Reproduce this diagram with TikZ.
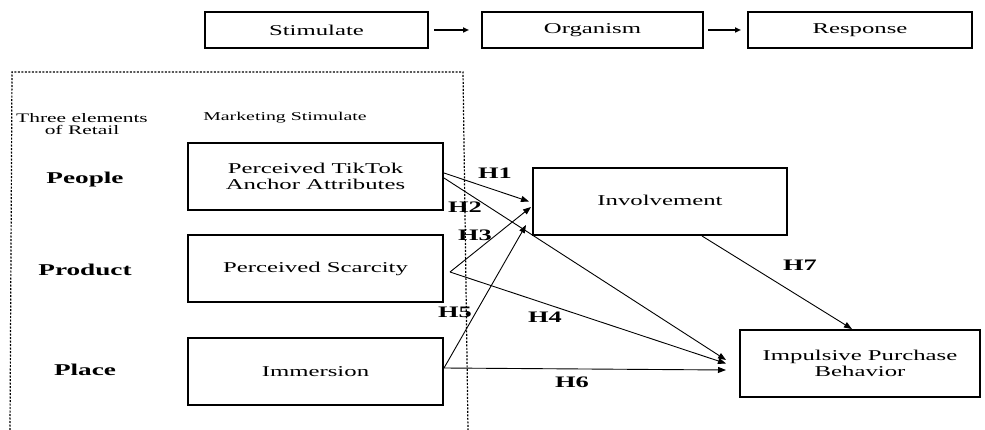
\documentclass[tikz,border=0pt]{standalone}
\usepackage{fontspec}
\setmainfont[FakeStretch=1.65]{Liberation Serif}
\usetikzlibrary{arrows.meta}
\begin{document}
\begin{tikzpicture}[x=1pt,y=-1pt,
  topbox/.style={draw, line width=2pt, inner sep=0pt, font=\fontsize{15}{17}\selectfont, minimum height=36pt},
  varbox/.style={draw, line width=2pt, inner sep=0pt, font=\fontsize{15}{15.5}\selectfont, align=center, minimum height=67pt},
  plain/.style={inner sep=0pt, align=center},
  elem/.style={inner sep=0pt, font=\bfseries\fontsize{16.5}{18}\selectfont},
  hlab/.style={inner sep=0pt, font=\bfseries\fontsize{16}{18}\selectfont},
  conn/.style={line width=0.9pt, -{Triangle[length=8pt,width=6pt]}},
  topconn/.style={line width=1.5pt, -{Triangle[length=6pt,width=5pt]}},
  frame/.style={line width=1.2pt, dash pattern=on 2pt off 1.5pt}]
\useasboundingbox (0,0) rectangle (985,430);

% dashed frame
\draw[frame] (10,430) -- (12,72) -- (463,72) -- (468,430);

% top row
\node[topbox, minimum width=223pt] (S) at (316.5,30) {Stimulate};
\node[topbox, minimum width=221pt] (O) at (592.5,30) {Organism};
\node[topbox, minimum width=224pt] (R) at (860,30) {Response};
\draw[topconn, shorten <=5pt, shorten >=12pt] (S.east) -- (O.west);
\draw[topconn, shorten <=4pt, shorten >=6pt] (O.east) -- (R.west);

% headings
\node[plain, font=\fontsize{13}{12}\selectfont] (h1) at (82,124) {Three elements\\of Retail};
\node[plain, font=\fontsize{12}{14}\selectfont] (h2) at (285,118) {Marketing Stimulate};

\node[elem] (e1) at (85,180) {People};
\node[elem] (e2) at (85,270) {Product};
\node[elem] (e3) at (85,370) {Place};

% variable boxes
\node[varbox, minimum width=255pt] (A) at (315.5,176.5) {Perceived TikTok\\Anchor Attributes};
\node[varbox, minimum width=255pt] (B) at (315.5,268.5) {\raisebox{3pt}{Perceived Scarcity}};
\node[varbox, minimum width=255pt] (C) at (315.5,371.5) {Immersion};
\node[varbox, minimum width=254pt] (I) at (660,201.5) {\raisebox{3pt}{Involvement}};
\node[varbox, minimum width=240pt] (P) at (860,363.5) {Impulsive Purchase\\Behavior};

% connectors
\draw[conn] ([yshift=3.5pt]A.east) -- ([xshift=-3pt]I.west);
\draw[conn] ([yshift=-1.5pt]A.east) -- ([xshift=-13pt,yshift=3.5pt]P.west);
\coordinate (bj) at ([xshift=6pt,yshift=-3.5pt]B.east);
\draw[conn] (bj) -- ([xshift=-1pt,yshift=-5.5pt]I.west);
\draw[conn] (bj) -- ([xshift=-13pt]P.west);
\draw[conn] ([yshift=3.5pt]C.east) -- ([xshift=-6pt,yshift=-23.5pt]I.west);
\draw[conn] ([yshift=3.5pt]C.east) -- ([xshift=-13pt,yshift=-6.5pt]P.west);
\draw[conn] ([xshift=42pt]I.south) -- ([xshift=-8pt]P.north);

% hypothesis labels
\node[hlab] (l1) at (495,173) {H1};
\node[hlab] (l2) at (465,207) {H2};
\node[hlab] (l3) at (475,235) {H3};
\node[hlab] (l4) at (545,317) {H4};
\node[hlab] (l5) at (455,312) {H5};
\node[hlab] (l6) at (572,382) {H6};
\node[hlab] (l7) at (800,265) {H7};
\end{tikzpicture}
\end{document}
